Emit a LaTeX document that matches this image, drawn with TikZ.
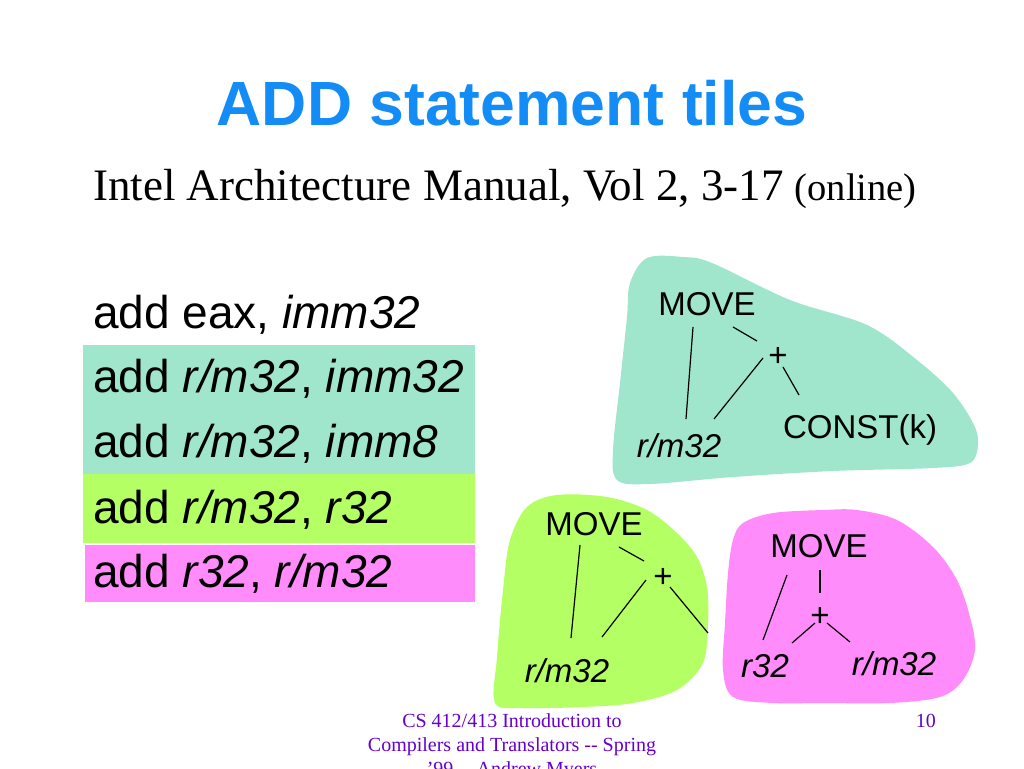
\documentclass[tikz,border=0pt]{standalone}
\usepackage{fontspec}
\setmainfont{Liberation Serif}
\setsansfont{Liberation Sans}
\usetikzlibrary{calc,positioning}
\definecolor{titleblue}{RGB}{20,140,245}
\definecolor{tileteal}{RGB}{160,230,205}
\definecolor{tilegreen}{RGB}{180,255,100}
\definecolor{tilepink}{RGB}{255,140,250}
\definecolor{footviolet}{RGB}{102,0,204}

\begin{document}
\begin{tikzpicture}[x=1pt, y=-1pt,
  tree/.style={font=\fontsize{33}{40}\sffamily, inner sep=0pt, anchor=base},
  op/.style={font=\fontsize{33}{40}\sffamily, inner sep=0pt},
  instr/.style={font=\fontsize{46}{54}\sffamily, inner sep=0pt, anchor=base west},
  foot/.style={font=\fontsize{20}{24}\rmfamily, text=footviolet, inner sep=0pt, anchor=base},
  edge/.style={black, line width=1.2pt}]

% Page
\clip (0,0) rectangle (1024,768);
\fill[white] (0,0) rectangle (1024,768);

% Title
\node[font=\fontsize{62.5}{74}\sffamily\bfseries, text=titleblue, inner sep=0pt, anchor=base] (title) at (512,125) {ADD statement tiles};
\node[font=\fontsize{45}{52}\rmfamily, inner sep=0pt, anchor=base west] (manual) at (93,200) {Intel Architecture Manual, Vol 2, 3-17 {\fontsize{38.5}{44}\selectfont(online)}};

% Tile bands
\fill[tileteal] (83,345) rectangle (475,474);
\fill[tilegreen] (83,474) rectangle (475,543);
\fill[tilepink] (85,545) rectangle (475,602);

% Instructions
\foreach \y/\txt [count=\i] in {328/{add eax, \textit{imm32}}, 392/{add \textit{r/m32}, \textit{imm32}},
    457/{add \textit{r/m32}, \textit{imm8}}, 523/{add \textit{r/m32}, \textit{r32}}, 587/{add \textit{r32}, \textit{r/m32}}} {
    \node[instr] (add\i) at (93,\y) {\txt};
}

% Teal tile
\fill[tileteal] plot[smooth cycle, tension=0.55] coordinates {
    (630,283) (647,258) (683,257) (712,263) (790,300) (867,325) (917,360) (953,393)
    (974,425) (978,445) (970,463) (933,468) (833,471) (733,477) (650,484) (617,480)
    (613,450) (620,383) (627,317)
};
\node[tree] (move1) at (707,315) {MOVE};
\node[op] (plus1) at (778,357) {+};
\node[tree] (rm1) at (679,457) {\textit{r/m32}};
\node[tree] (const1) at (860,438) {CONST(k)};
\draw[edge] ($(move1.base)+(-14,12)$) -- ($(rm1.base)+(7,-38)$);
\draw[edge] ($(move1.base)+(26,12)$) -- ($(plus1)+(-21,-16)$);
\draw[edge] ($(plus1)+(-15,1)$) -- ($(rm1.base)+(35,-38)$);
\draw[edge] ($(plus1)+(5,10)$) -- ($(const1.base)+(-61,-43)$);

% Green tile
\fill[tilegreen] plot[smooth cycle, tension=0.55] coordinates {
    (527,507) (557,495) (607,497) (647,510) (677,533) (697,557) (707,587) (708,623)
    (703,663) (677,690) (633,703) (583,707) (523,708) (495,703) (497,657) (503,590)
    (510,540)
};
\node[tree] (move2) at (594,535) {MOVE};
\node[op] (plus2) at (663,578) {+};
\node[tree] (rm2) at (567,682) {\textit{r/m32}};
\coordinate (tail2) at (708,633);
\draw[edge] ($(move2.base)+(-14,10)$) -- ($(rm2.base)+(4,-44)$);
\draw[edge] ($(move2.base)+(25,12)$) -- ($(plus2)+(-19,-17)$);
\draw[edge] ($(plus2)+(-17,2)$) -- ($(rm2.base)+(35,-45)$);
\draw[edge] ($(plus2)+(7,9)$) -- (tail2);

% Pink tile
\fill[tilepink] plot[smooth cycle, tension=0.55] coordinates {
    (743,523) (773,513) (823,510) (857,510) (897,520) (933,547) (957,580) (970,617)
    (975,650) (963,680) (940,697) (890,703) (823,703) (773,703) (733,697) (723,670)
    (725,623) (728,573) (733,540)
};
\node[tree] (move3) at (819,557) {MOVE};
\node[op] (plus3) at (820,617) {+};
\node[tree] (r3) at (765,677) {\textit{r32}};
\node[tree] (rm3) at (894,675) {\textit{r/m32}};
\draw[edge] ($(move3.base)+(-32,18)$) -- ($(r3.base)+(-2,-37)$);
\draw[edge] ($(move3.base)+(1,13)$) -- ($(plus3)+(0,-24)$);
\draw[edge] ($(plus3)+(-5,6)$) -- ($(r3.base)+(27,-34)$);
\draw[edge] ($(plus3)+(7,6)$) -- ($(rm3.base)+(-44,-33)$);

% Footer
\node[foot] (course) at (512,727) {CS 412/413 Introduction to};
\node[foot] (course2) at (512,751) {Compilers and Translators -{}- Spring};
\node[foot] (course3) at (512,775) {'99 -{}- Andrew Myers};
\node[foot, anchor=base east] (page) at (936,727) {10};

\end{tikzpicture}
\end{document}
